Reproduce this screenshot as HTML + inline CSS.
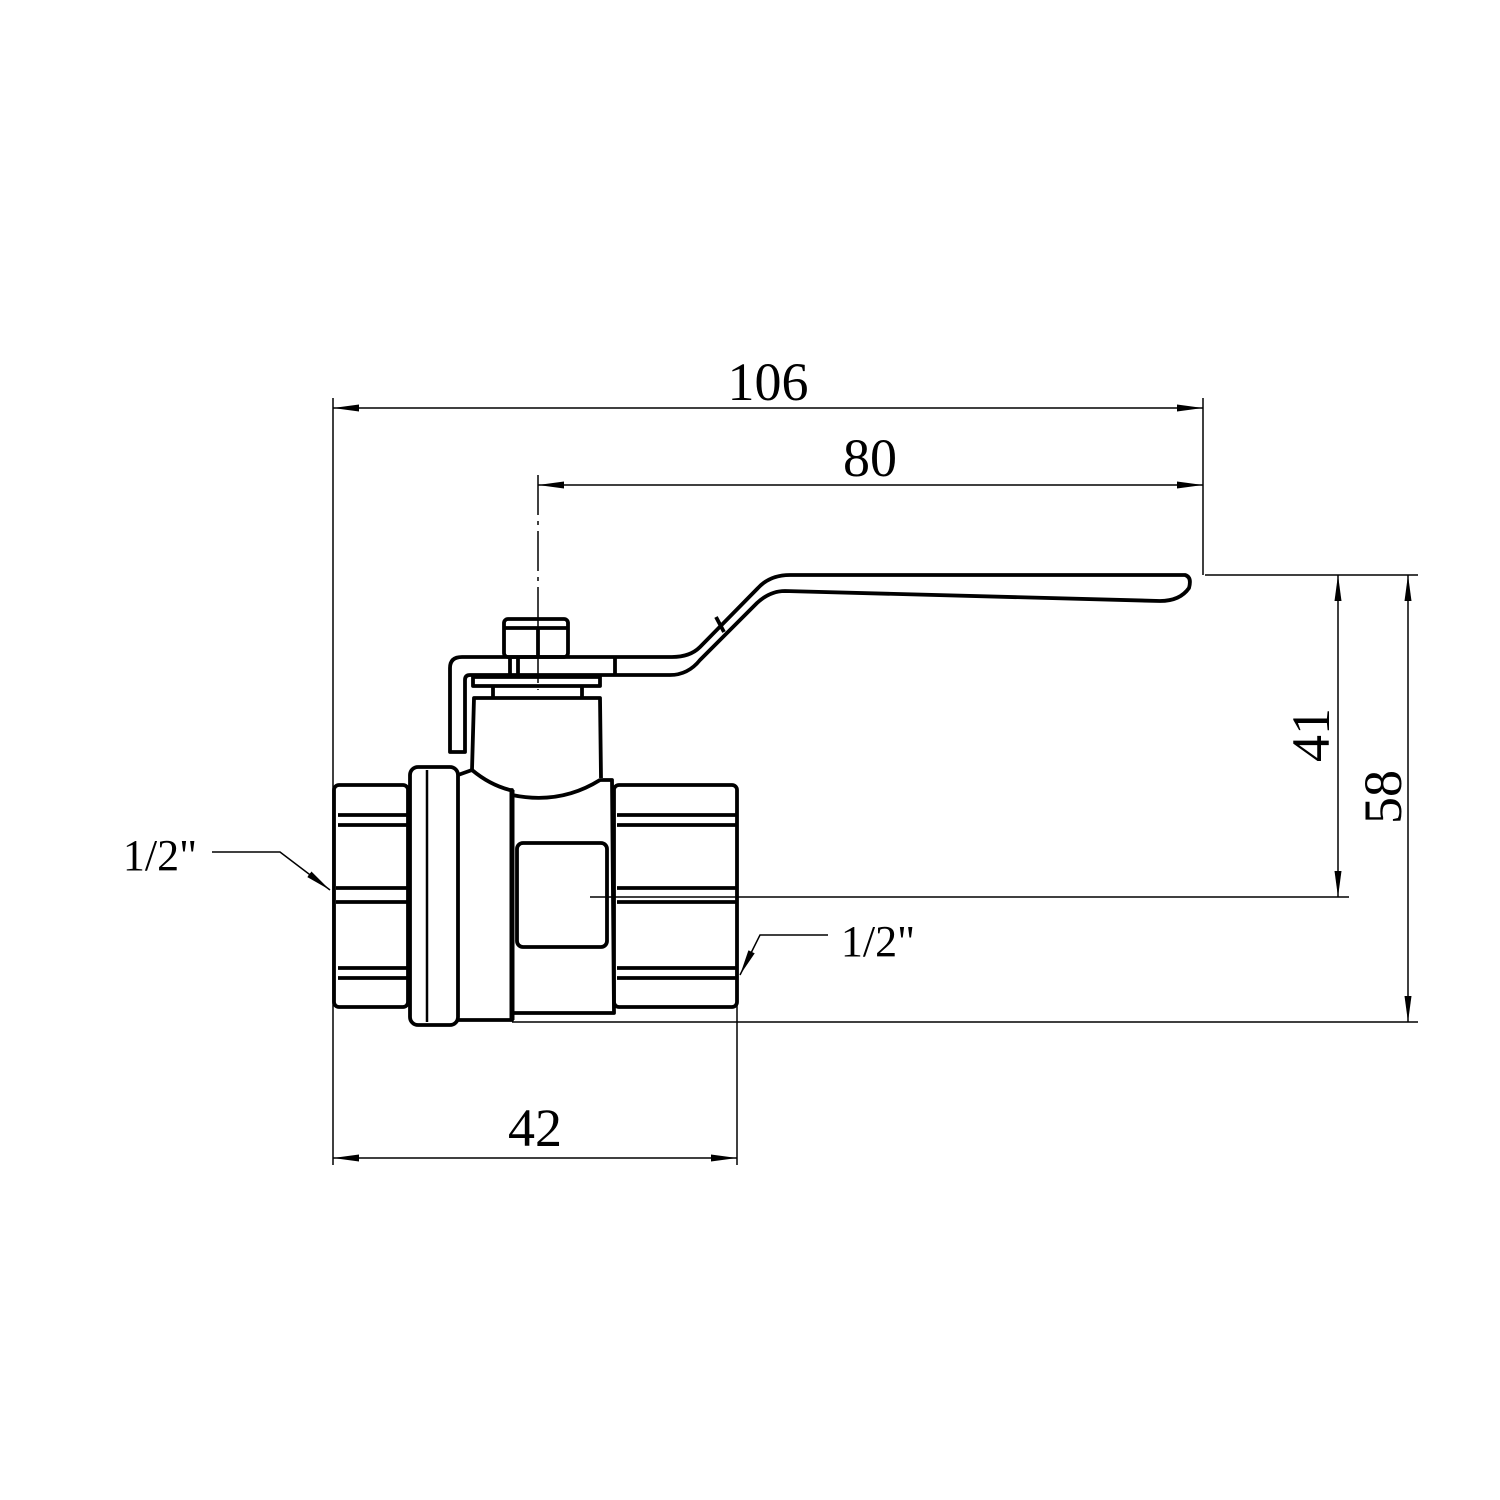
<!DOCTYPE html>
<html><head><meta charset="utf-8"><style>html,body{margin:0;padding:0;background:#fff}svg{display:block}</style></head>
<body>
<svg width="1500" height="1500" viewBox="0 0 1500 1500" xmlns="http://www.w3.org/2000/svg">
<defs>
<marker id="a" viewBox="0 0 26 8" refX="26" refY="4" markerWidth="26" markerHeight="8" markerUnits="userSpaceOnUse" orient="auto-start-reverse"><path d="M0,0.5 L26,4 L0,7.5 z" fill="#000"/></marker>
</defs>
<g stroke="#000" stroke-width="1.5" fill="none">
<line x1="333" y1="398" x2="333" y2="1165"/>
<line x1="1203" y1="398" x2="1203" y2="575"/>
<line x1="538" y1="475" x2="538" y2="690" stroke-dasharray="40,6,4,6"/>
<line x1="737" y1="1005" x2="737" y2="1165"/>
<line x1="1205" y1="575" x2="1418" y2="575"/>
<line x1="590" y1="897" x2="1349" y2="897"/>
<line x1="512" y1="1022" x2="1418" y2="1022"/>
<line x1="333" y1="408" x2="1203" y2="408" marker-start="url(#a)" marker-end="url(#a)"/>
<line x1="538" y1="485" x2="1203" y2="485" marker-start="url(#a)" marker-end="url(#a)"/>
<line x1="333" y1="1158" x2="737" y2="1158" marker-start="url(#a)" marker-end="url(#a)"/>
<line x1="1338" y1="575" x2="1338" y2="897" marker-start="url(#a)" marker-end="url(#a)"/>
<line x1="1408" y1="575" x2="1408" y2="1022" marker-start="url(#a)" marker-end="url(#a)"/>
<polyline points="212,852 280,852 330,890" marker-end="url(#a)"/>
<polyline points="828,935 760,935 740,975" marker-end="url(#a)"/>
</g>
<g stroke="#000" stroke-width="3.8" fill="none" stroke-linejoin="round">
<rect x="334" y="785" width="74" height="222" rx="5"/>
<line x1="338" y1="815" x2="408" y2="815"/><line x1="338" y1="825" x2="408" y2="825"/>
<line x1="336" y1="888" x2="408" y2="888"/><line x1="336" y1="902" x2="408" y2="902"/>
<line x1="338" y1="968" x2="408" y2="968"/><line x1="338" y1="978" x2="408" y2="978"/>
<rect x="410" y="767" width="48" height="258" rx="8"/>
<line x1="427" y1="770" x2="427" y2="1022" stroke-width="2.5"/>
<path d="M458,775 L472,770 Q490,785 510,790 L512,790 L512,1020 L458,1020"/>
<line x1="512" y1="790" x2="512" y2="1020" stroke-width="5"/>
<path d="M512,795 Q560,805 600,780 L612,780 L614,1013 L514,1013"/>
<rect x="517" y="843" width="90" height="104" rx="6"/>
<rect x="614" y="785" width="123" height="222" rx="5"/>
<line x1="617" y1="815" x2="737" y2="815"/><line x1="617" y1="825" x2="737" y2="825"/>
<line x1="617" y1="888" x2="737" y2="888"/><line x1="617" y1="902" x2="737" y2="902"/>
<line x1="617" y1="968" x2="737" y2="968"/><line x1="617" y1="978" x2="737" y2="978"/>
<path d="M472,770 L474,698 L600,698 L601,778"/>
<rect x="473" y="677" width="127" height="9"/>
<line x1="493" y1="687" x2="493" y2="698"/><line x1="582" y1="687" x2="582" y2="698"/>
<rect x="504" y="619" width="64" height="38" rx="4"/>
<line x1="504" y1="628" x2="568" y2="628"/>
<line x1="538" y1="628" x2="538" y2="657"/>
<line x1="510" y1="657" x2="510" y2="675"/><line x1="518" y1="657" x2="518" y2="675"/>
<path d="M450,752 L450,668 Q450,657 462,657 L672,657 Q690,657 700,647 L758,588 Q770,575 790,575 L1185,575 Q1192,577 1189,588 Q1180,601 1160,601 L785,591 Q770,591 757,603 L700,660 Q688,675 670,675 L470,675 Q465,675 465,680 L465,752 Z"/>
<line x1="615" y1="657" x2="615" y2="675"/>
<line x1="716" y1="617" x2="724" y2="632"/>
</g>
<g font-family="Liberation Serif, serif" fill="#000" text-anchor="middle">
<text x="768" y="400" font-size="54">106</text>
<text x="870" y="476" font-size="54">80</text>
<text x="535" y="1146" font-size="54">42</text>
<text x="160" y="870" font-size="44">1/2"</text>
<text x="878" y="956" font-size="44">1/2"</text>
<text transform="translate(1329,735) rotate(-90)" font-size="54">41</text>
<text transform="translate(1401,797) rotate(-90)" font-size="54">58</text>
</g>
</svg>
</body></html>
